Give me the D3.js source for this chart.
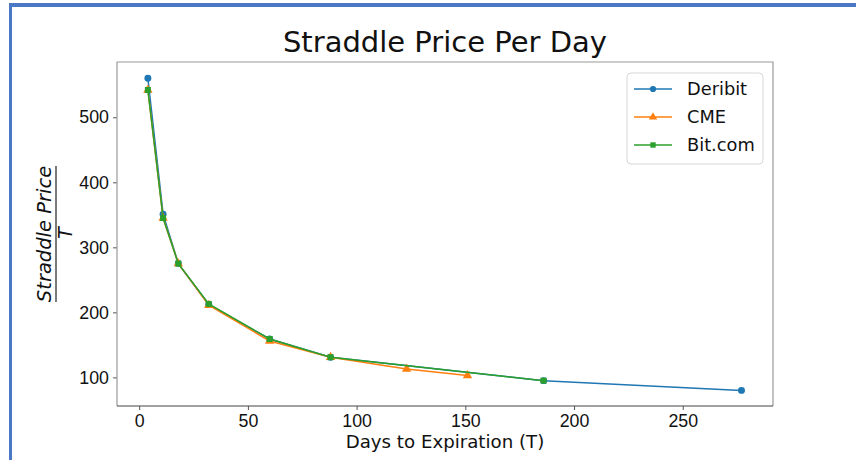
<!DOCTYPE html>
<html>
<head>
<meta charset="utf-8">
<script src="https://cdn.jsdelivr.net/npm/d3@7"></script>
<style>
  body { margin: 0; background: #fff; }
  svg { display: block; font-family: "DejaVu Sans", sans-serif; }
</style>
</head>
<body>
<script>
const width = 856;
const height = 460;
const margin = { top: 62, right: 83, bottom: 54, left: 117 };

// data
const deribitDays = [4, 11, 18, 32, 60, 88, 186, 277];
const deribitPrice = [560, 351, 275, 212, 159, 131, 95, 80];
const cmeDays = [4, 11, 18, 32, 60, 88, 123, 151];
const cmePrice = [542, 345, 275, 211, 156, 131, 113, 103];
const bitDays = [4, 11, 18, 32, 60, 88, 186];
const bitPrice = [542, 345, 275, 213, 159, 131, 95];

const xTicks = [0, 50, 100, 150, 200, 250];
const yTicks = [100, 200, 300, 400, 500];
const seriesNames = ["Deribit", "CME", "Bit.com"];
const colors = ["#1f77b4", "#ff7f0e", "#2ca02c"];
const markers = [d3.symbolCircle, d3.symbolTriangle, d3.symbolSquare];
const markerSizes = [38, 38, 36];

const series = [
  { name: seriesNames[0], days: deribitDays, price: deribitPrice },
  { name: seriesNames[1], days: cmeDays, price: cmePrice },
  { name: seriesNames[2], days: bitDays, price: bitPrice },
].map((s, i) => ({
  ...s,
  color: colors[i],
  marker: markers[i],
  size: markerSizes[i],
  points: s.days.map((d, j) => ({ x: d, y: s.price[j] })),
}));

const svg = d3
  .select("body")
  .append("svg")
  .attr("width", width)
  .attr("height", height);

// blue frame of the screenshot
svg.append("rect").attr("x", 9).attr("y", 3).attr("width", width - 9).attr("height", 4).attr("fill", "#4a77c6");
svg.append("rect").attr("x", 9).attr("y", 3).attr("width", 3).attr("height", height - 3).attr("fill", "#4a77c6");

const xScale = d3
  .scaleLinear()
  .domain([-10.2, 291.5])
  .range([margin.left, width - margin.right]);

const yScale = d3
  .scaleLinear()
  .domain([56, 585])
  .range([height - margin.bottom, margin.top]);

const setAxes = () => {
  const xAxis = d3.axisBottom(xScale).tickValues(xTicks).tickSize(4).tickPadding(4);
  const yAxis = d3.axisLeft(yScale).tickValues(yTicks).tickSize(4).tickPadding(4);

  const gx = svg
    .append("g")
    .attr("transform", `translate(0, ${height - margin.bottom})`)
    .call(xAxis);
  gx.select(".domain").remove();
  gx.selectAll("line").attr("stroke", "#555");
  gx.selectAll("text").style("font-size", "17.8px").attr("fill", "#111");

  const gy = svg
    .append("g")
    .attr("transform", `translate(${margin.left}, 0)`)
    .call(yAxis);
  gy.select(".domain").remove();
  gy.selectAll("line").attr("stroke", "#555");
  gy.selectAll("text").style("font-size", "17.8px").attr("fill", "#111");

  // frame
  const x0 = margin.left;
  const x1 = width - margin.right;
  const y0 = margin.top;
  const y1 = height - margin.bottom;
  svg.append("path")
    .attr("d", `M${x0},${y1}V${y0}H${x1}V${y1}`)
    .attr("fill", "none")
    .attr("stroke", "#9a9a9a")
    .attr("stroke-width", 1.2);
  svg.append("line")
    .attr("x1", x0).attr("x2", x1).attr("y1", y1).attr("y2", y1)
    .attr("stroke", "#444")
    .attr("stroke-width", 1.2);
};

const setText = () => {
  svg
    .append("text")
    .text("Straddle Price Per Day")
    .attr("x", (margin.left + width - margin.right) / 2)
    .attr("y", 52)
    .attr("text-anchor", "middle")
    .attr("font-size", "29px")
    .attr("fill", "#111");

  svg
    .append("text")
    .text("Days to Expiration (T)")
    .attr("x", (margin.left + width - margin.right) / 2)
    .attr("y", 448)
    .attr("text-anchor", "middle")
    .attr("font-size", "18.2px")
    .attr("fill", "#111");

  const yLabel = svg
    .append("g")
    .attr("transform", `translate(56, ${(margin.top + height - margin.bottom) / 2}) rotate(-90)`);
  yLabel
    .append("text")
    .text("Straddle Price")
    .attr("x", 0)
    .attr("y", -5)
    .attr("text-anchor", "middle")
    .attr("font-style", "italic")
    .attr("font-size", "19.5px")
    .attr("fill", "#111");
  yLabel
    .append("line")
    .attr("x1", -68)
    .attr("x2", 68)
    .attr("y1", 0)
    .attr("y2", 0)
    .attr("stroke", "#222")
    .attr("stroke-width", 1.2);
  yLabel
    .append("text")
    .text("T")
    .attr("x", 1)
    .attr("y", 16)
    .attr("text-anchor", "middle")
    .attr("font-style", "italic")
    .attr("font-size", "19.5px")
    .attr("fill", "#111");
};

const drawSeries = () => {
  const line = d3
    .line()
    .x((d) => xScale(d.x))
    .y((d) => yScale(d.y));

  series.forEach((s) => {
    const g = svg.append("g");
    g.append("path")
      .datum(s.points)
      .attr("d", line)
      .attr("fill", "none")
      .attr("stroke", s.color)
      .attr("stroke-width", 1.5);
    g.selectAll("path.marker")
      .data(s.points)
      .enter()
      .append("path")
      .attr("class", "marker")
      .attr("d", d3.symbol().type(s.marker).size(s.size))
      .attr("transform", (d) => `translate(${xScale(d.x)}, ${yScale(d.y)})`)
      .attr("fill", s.color);
  });
};

const setLegend = () => {
  const legend = svg.append("g").attr("transform", "translate(627, 73)");
  legend
    .append("rect")
    .attr("width", 136)
    .attr("height", 91)
    .attr("rx", 4)
    .attr("fill", "#fff")
    .attr("fill-opacity", 0.8)
    .attr("stroke", "#d6d6d6");

  series.forEach((s, i) => {
    const y = 16 + i * 28;
    legend
      .append("line")
      .attr("x1", 7)
      .attr("x2", 45)
      .attr("y1", y)
      .attr("y2", y)
      .attr("stroke", s.color)
      .attr("stroke-width", 1.5);
    legend
      .append("path")
      .attr("d", d3.symbol().type(s.marker).size(s.size * 0.8))
      .attr("transform", `translate(26, ${y})`)
      .attr("fill", s.color);
    legend
      .append("text")
      .text(s.name)
      .attr("x", 60)
      .attr("y", y)
      .attr("dy", "0.36em")
      .attr("font-size", "17.8px")
      .attr("fill", "#111");
  });
};

setAxes();
drawSeries();
setText();
setLegend();
</script>
</body>
</html>
